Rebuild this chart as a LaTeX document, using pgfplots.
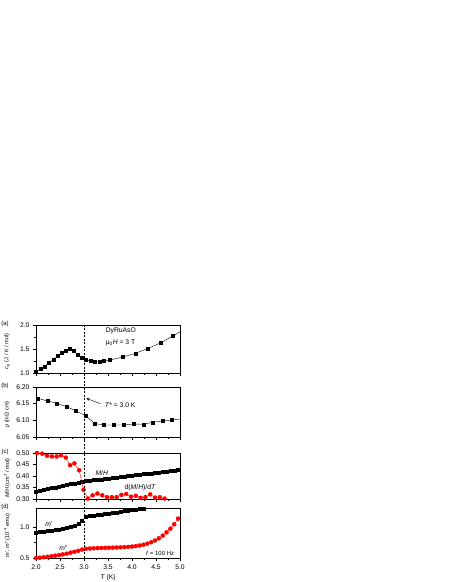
\documentclass[border=0pt]{standalone}
\usepackage{fontspec}
\setmainfont{Liberation Sans}
\usepackage{pgfplots}
\pgfplotsset{compat=1.18}

\newcommand{\lblfont}{\fontsize{6.8}{7.8}\selectfont}
\newcommand{\tagfont}{\fontsize{6}{7}\selectfont}
\newcommand{\ylabfont}{\fontsize{5.6}{6.5}\selectfont}

\tikzset{tag/.style={font=\tagfont, anchor=center}}
\pgfplotsset{
  panel/.style={
    scale only axis, width=144bp,
    xmin=2, xmax=5,
    xtick={2,2.5,...,5}, minor x tick num=1,
    tick align=outside, tick pos=left,
    major tick length=3bp, minor tick length=1.8bp,
    every tick/.style={black, line width=0.4bp},
    axis line style={line width=0.5bp},
    tick label style={font=\lblfont},
    /pgf/number format/assume math mode=true,
    xticklabels={},
    ylabel style={at={(axis description cs:-0.2,0.45)}, anchor=center, font=\ylabfont},
    clip mode=individual,
  },
  blk/.style={black, line width=0.4bp, mark=square*, mark size=1.5bp},
  rd/.style={red, line width=0.4bp, mark=*, mark size=2bp, mark options={fill=red}},
}

\begin{document}
\begin{tikzpicture}
\useasboundingbox (0bp,0bp) rectangle (450bp,582bp);

% (a) specific heat
\begin{axis}[panel, at={(36bp,209bp)}, anchor=south west, height=48bp,
  ymin=1, ymax=2, ytick={1,1.5,2}, minor y tick num=1,
  yticklabel style={/pgf/number format/.cd,fixed,fixed zerofill,precision=1},
  ylabel={\textit{c}\textsubscript{\textit{p}} (J / K / mol)}]
\addplot[blk] coordinates {
  (2.00,1.03) (2.09,1.08) (2.18,1.14) (2.27,1.21) (2.36,1.28) (2.45,1.35)
  (2.54,1.42) (2.62,1.47) (2.70,1.50) (2.78,1.46) (2.86,1.39) (2.95,1.32)
  (3.04,1.27) (3.14,1.25) (3.23,1.24) (3.32,1.24) (3.42,1.25) (3.53,1.27)
  (3.80,1.33) (4.07,1.41) (4.33,1.51) (4.60,1.63) (4.85,1.77)
};
\addplot[black, line width=0.4bp, no marks] coordinates {(4.85,1.77) (5.00,1.86)};
\node[font=\lblfont, anchor=west] at (axis cs:3.38,1.875) {DyRuAsO};
\node[font=\lblfont, anchor=west] at (axis cs:3.38,1.625) {μ\textsubscript{0}\textit{H} = 3 T};
\node[tag] at (axis description cs:-0.215,1.02) {(a)};
\coordinate (dtop) at (axis cs:3,2);
\end{axis}

% (b) resistivity
\begin{axis}[panel, at={(36bp,145bp)}, anchor=south west, height=50bp,
  ymin=6.05, ymax=6.20, ytick={6.05,6.10,6.15,6.20},
  yticklabel style={/pgf/number format/.cd,fixed,fixed zerofill,precision=2},
  ylabel={\textit{ρ} (mΩ cm)}]
\addplot[blk] coordinates {
  (2.03,6.166) (2.25,6.158) (2.43,6.151) (2.64,6.141) (2.83,6.128) (3.03,6.114)
  (3.23,6.090) (3.42,6.086) (3.62,6.086) (3.83,6.086) (4.03,6.089) (4.24,6.088)
  (4.43,6.094) (4.63,6.098) (4.83,6.101)
};
\addplot[black, line width=0.4bp, no marks] coordinates {(4.83,6.101) (5.00,6.104)};
\draw[-stealth, line width=0.4bp] (axis cs:3.34,6.150) -- (axis cs:3.05,6.166);
\node[font=\lblfont, anchor=west] at (axis cs:3.36,6.145) {\textit{T}* = 3.0 K};
\node[tag] at (axis description cs:-0.215,1.02) {(b)};
\end{axis}

% (c) magnetisation
\begin{axis}[panel, at={(36bp,83bp)}, anchor=south west, height=46bp,
  ymin=0.30, ymax=0.50, ytick={0.30,0.35,...,0.50},
  yticklabel style={/pgf/number format/.cd,fixed,fixed zerofill,precision=2},
  ylabel={\textit{M}/\textit{H} (cm\textsuperscript{3} / mol)}]
\addplot[blk] coordinates {
  (2.00,0.333) (2.08,0.337) (2.16,0.340) (2.24,0.344) (2.32,0.347) (2.40,0.351)
  (2.48,0.354) (2.56,0.358) (2.64,0.361) (2.72,0.365) (2.80,0.368) (2.88,0.372)
  (2.96,0.375) (3.04,0.379) (3.12,0.380) (3.20,0.382) (3.28,0.384) (3.36,0.386)
  (3.44,0.388) (3.52,0.390) (3.60,0.392) (3.68,0.394) (3.76,0.396) (3.84,0.398)
  (3.92,0.400) (4.00,0.402) (4.08,0.404) (4.16,0.406) (4.24,0.408) (4.32,0.410)
  (4.40,0.412) (4.48,0.414) (4.56,0.416) (4.64,0.418) (4.72,0.420) (4.80,0.422)
  (4.88,0.424) (4.96,0.426)
};
\addplot[rd] coordinates {
  (2.02,0.500) (2.13,0.497) (2.23,0.488) (2.33,0.485) (2.43,0.485) (2.52,0.490)
  (2.62,0.480) (2.71,0.447) (2.80,0.455) (2.90,0.425) (2.99,0.340) (3.08,0.302)
  (3.18,0.316) (3.28,0.324) (3.38,0.316) (3.48,0.308) (3.58,0.308) (3.68,0.308)
  (3.78,0.318) (3.88,0.322) (3.98,0.310) (4.08,0.314) (4.18,0.305) (4.28,0.308)
  (4.38,0.320) (4.48,0.306) (4.58,0.308) (4.68,0.302) (4.78,0.298) (4.98,0.298)
};
\node[font=\lblfont] at (axis cs:3.37,0.413) {\textit{M}/\textit{H}};
\node[font=\lblfont] at (axis cs:4.17,0.350) {d(\textit{M}/\textit{H})/d\textit{T}};
\node[tag] at (axis description cs:-0.215,1.02) {(c)};
\end{axis}

% (d) ac susceptibility
\begin{axis}[panel, at={(36bp,24bp)}, anchor=south west, height=50bp,
  ymin=0.5, ymax=1.3, ytick={0.5,1.0}, minor y tick num=1,
  yticklabel style={/pgf/number format/.cd,fixed,fixed zerofill,precision=1},
  xticklabels={2.0,2.5,3.0,3.5,4.0,4.5,5.0},
  xlabel={\textit{T} (K)}, xlabel style={font=\lblfont, yshift=2bp},
  ylabel={\textit{m}', \textit{m}'' (10\textsuperscript{-4} emu)}]
\addplot[blk] coordinates {
  (2.00,0.910) (2.08,0.918) (2.16,0.925) (2.24,0.932) (2.32,0.940) (2.40,0.948)
  (2.48,0.957) (2.56,0.967) (2.64,0.980) (2.72,0.995) (2.80,1.015) (2.88,1.045)
  (2.96,1.100) (3.04,1.160) (3.12,1.169) (3.20,1.178) (3.28,1.187) (3.36,1.196)
  (3.44,1.205) (3.52,1.214) (3.60,1.223) (3.68,1.232) (3.76,1.241) (3.84,1.250)
  (3.92,1.259) (4.00,1.268) (4.08,1.277) (4.16,1.286) (4.24,1.295)
};
\addplot[rd] coordinates {
  (2.00,0.500) (2.08,0.505) (2.16,0.512) (2.24,0.520) (2.32,0.528) (2.40,0.537)
  (2.48,0.547) (2.56,0.558) (2.64,0.570) (2.72,0.585) (2.80,0.600) (2.88,0.615)
  (2.96,0.635) (3.04,0.648) (3.12,0.652) (3.20,0.655) (3.28,0.658) (3.36,0.660)
  (3.44,0.662) (3.52,0.664) (3.60,0.666) (3.68,0.668) (3.76,0.671) (3.84,0.674)
  (3.92,0.678) (4.00,0.683) (4.08,0.690) (4.16,0.700) (4.24,0.713) (4.32,0.730)
  (4.40,0.752) (4.48,0.780) (4.56,0.815) (4.64,0.858) (4.72,0.910) (4.80,0.970)
  (4.88,1.040) (4.96,1.130)
};
\node[font=\lblfont] at (axis cs:2.27,1.04) {\textit{m}'};
\node[font=\lblfont] at (axis cs:2.57,0.66) {\textit{m}''};
\node[font=\tagfont, anchor=east] at (axis cs:4.95,0.58) {\textit{f} = 100 Hz};
\node[tag] at (axis description cs:-0.215,1.02) {(d)};
\coordinate (dbot) at (axis cs:3,0.5);
\end{axis}

\draw[dashed, dash pattern=on 2bp off 1.5bp, line width=0.4bp] (dtop) -- (dbot);
\end{tikzpicture}
\end{document}
